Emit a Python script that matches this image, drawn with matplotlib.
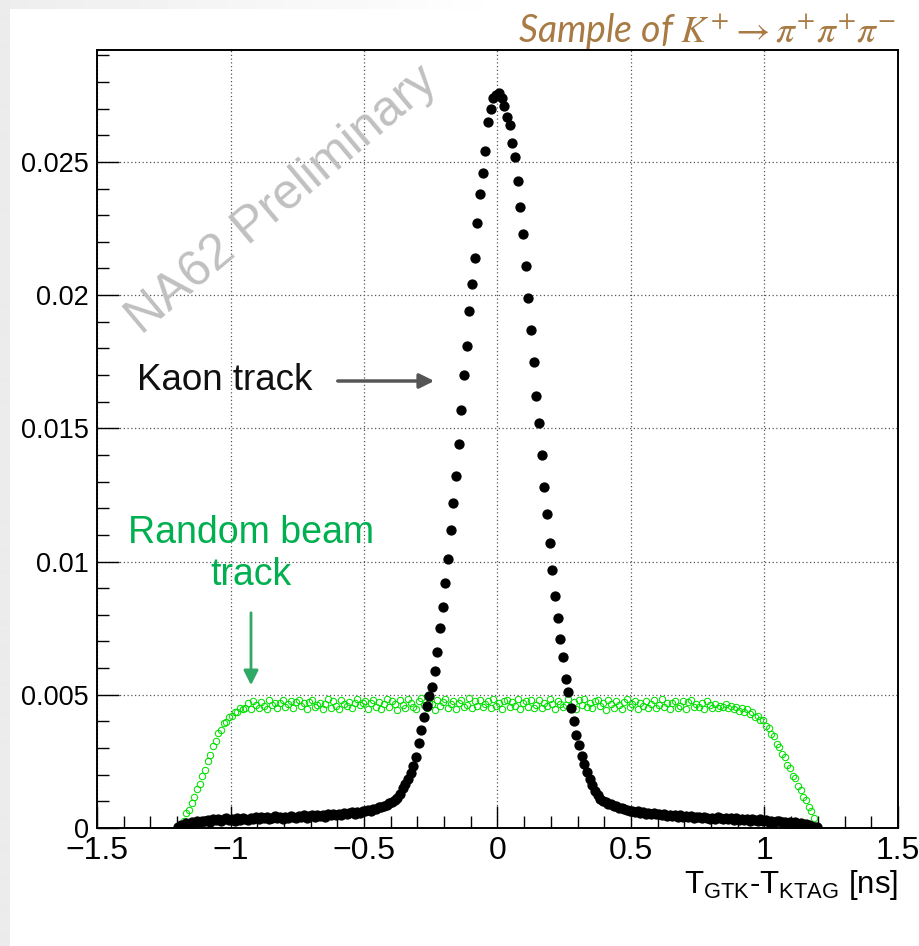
import numpy as np
import matplotlib
matplotlib.use("Agg")
import matplotlib.pyplot as plt
from matplotlib import font_manager
from matplotlib.ticker import MultipleLocator, FixedLocator, FixedFormatter

# histogram binning (ns): 240 bins of 0.01 between -1.2 and 1.2
t_lo, t_hi, n_bins = -1.2, 1.2, 240

# bin contents, in units of 1e-5
kaon_e5 = [
    3, 10, 8, 17, 14, 22, 18, 26, 21, 28,
    25, 31, 24, 33, 29, 35, 27, 32, 36, 30,
    34, 28, 37, 31, 39, 33, 30, 38, 35, 40,
    33, 41, 36, 42, 34, 39, 44, 37, 41, 35,
    43, 38, 45, 40, 37, 46, 42, 48, 39, 44,
    47, 42, 50, 45, 49, 43, 52, 47, 54, 50,
    53, 49, 57, 52, 56, 60, 54, 61, 58, 63,
    62, 67, 65, 71, 73, 77, 80, 84, 88, 92,
    97, 104, 114, 128, 150, 165, 183, 205, 232, 268,
    318, 368, 418, 458, 496, 530, 590, 660, 750, 830,
    920, 1010, 1120, 1220, 1320, 1440, 1570, 1700, 1810, 1940,
    2040, 2140, 2270, 2380, 2460, 2540, 2650, 2700, 2740, 2750,
    2760, 2740, 2710, 2670, 2640, 2570, 2520, 2430, 2330, 2230,
    2110, 1990, 1870, 1750, 1620, 1520, 1400, 1280, 1180, 1070,
    970, 870, 790, 710, 640, 560, 510, 450, 400, 350,
    310, 270, 240, 210, 185, 160, 138, 122, 110, 102,
    98, 91, 89, 83, 81, 75, 75, 70, 69, 64,
    65, 60, 62, 56, 59, 54, 57, 52, 56, 51,
    53, 48, 51, 46, 50, 44, 48, 43, 47, 42,
    45, 40, 44, 38, 43, 41, 36, 42, 37, 35,
    39, 34, 40, 36, 33, 38, 32, 37, 31, 36,
    30, 35, 29, 34, 28, 33, 31, 26, 32, 27,
    29, 24, 28, 22, 27, 25, 21, 24, 20, 22,
    18, 21, 16, 17, 13, 14, 10, 9, 5, 2,
]

random_e5 = [
    2, 12, 28, 55, 68, 95, 115, 146, 165, 196,
    219, 252, 275, 308, 327, 356, 369, 393, 399, 417,
    420, 436, 437, 450, 448,
    452, 471, 447, 478, 463, 452, 474, 459, 445, 480,
    461, 469, 451, 470, 482, 456, 466, 475, 449, 472,
    479, 458, 469, 448, 473, 481, 455, 463, 470, 446,
    467, 484, 452, 476, 458, 446, 479, 465, 457, 474,
    450, 468, 486, 460, 468, 477, 448, 471, 482, 455,
    474, 446, 466, 485, 453, 477, 464, 442, 481, 460,
    451, 483, 469, 456, 447, 475, 487, 462, 450, 471,
    466, 444, 479, 457, 474, 484, 450, 464, 478, 448,
    470, 482, 454, 462, 488, 449, 476, 459, 480, 453,
    465, 477, 449, 483, 458, 470, 445, 478, 481, 454,
    473, 458, 485, 447, 468, 478, 455, 482, 451, 463,
    479, 450, 469, 457, 486, 466, 446, 476, 466, 453,
    460, 483, 455, 473, 447, 479, 463, 485, 456, 468,
    449, 475, 481, 458, 470, 444, 482, 464, 452, 476,
    462, 448, 472, 484, 454, 467, 478, 446, 471, 457,
    477, 452, 466, 480, 449, 461, 483, 456, 470, 445,
    468, 478, 451, 459, 475, 447, 472, 481, 455, 465,
    456, 469, 448, 477, 460, 452, 466, 449, 458, 453,
    464, 450,
    458, 447, 455, 441, 450, 434, 445, 427, 434, 417,
    422, 404, 405,
    381, 377, 351, 344, 315, 305, 277, 266, 238, 226,
    196, 186, 157, 143, 117, 104, 77, 63, 37, 8,
]

x_ticks = [-1.5, -1, -0.5, 0, 0.5, 1, 1.5]
x_tick_labels = ["\u22121.5", "\u22121", "\u22120.5", "0", "0.5", "1", "1.5"]
y_ticks = [0, 0.005, 0.01, 0.015, 0.02, 0.025]
y_tick_labels = ["0", "0.005", "0.01", "0.015", "0.02", "0.025"]

W, H = 920, 946


def px(x, y):
    # pixel position in the picture -> figure fraction
    return x / W, 1 - y / H


names = {f.name for f in font_manager.fontManager.ttflist}
narrow = "Liberation Sans Narrow" if "Liberation Sans Narrow" in names else "Liberation Sans"
plt.rcParams["mathtext.fontset"] = "custom"
plt.rcParams["mathtext.rm"] = narrow
plt.rcParams["mathtext.it"] = narrow + ":italic"

fig = plt.figure(figsize=(W / 100, H / 100), dpi=100, facecolor="white")

# slide background: grey strip on the left and fading grey band on top
bg = fig.add_axes([0, 0, 1, 1], zorder=-5)
bg.set_axis_off()
shade = np.ones((H, W))
shade[:, :10] = 0.925
top = np.clip(0.93 + 0.07 * np.linspace(0, 1, W) * 1.8, 0, 1)
shade[:10, 10:] = top[10:]
bg.imshow(shade, cmap="gray", vmin=0, vmax=1, aspect="auto", interpolation="bilinear")

ax = fig.add_axes([97 / W, 1 - 828 / H, (898 - 97) / W, (828 - 50) / H])

edges = np.linspace(t_lo, t_hi, n_bins + 1)
centers = 0.5 * (edges[:-1] + edges[1:])
kaon = np.array(kaon_e5) * 1e-5
random_beam = np.array(random_e5) * 1e-5

ax.plot(centers, random_beam, ls="none", marker="o", ms=4.6, mfc="none",
        mec="#00e000", mew=0.75, zorder=3)
ax.plot(centers, kaon, ls="none", marker="o", ms=6.4, mfc="black",
        mec="black", zorder=4)

ax.set_xlim(-1.5, 1.5)
ax.set_ylim(0, 0.0292)
ax.xaxis.set_major_locator(FixedLocator(x_ticks))
ax.xaxis.set_major_formatter(FixedFormatter(x_tick_labels))
ax.xaxis.set_minor_locator(MultipleLocator(0.1))
ax.yaxis.set_major_locator(FixedLocator(y_ticks))
ax.yaxis.set_major_formatter(FixedFormatter(y_tick_labels))
ax.yaxis.set_minor_locator(MultipleLocator(0.001))

ax.tick_params(which="both", direction="in", top=False, right=False, width=1.0, color="black")
ax.tick_params(which="major", length=16)
ax.tick_params(which="minor", length=8.5)
ax.tick_params(axis="y", which="major", labelsize=19.5, pad=6)
ax.tick_params(axis="x", which="major", labelsize=23, pad=6)
for lab in ax.get_yticklabels():
    lab.set_family("Liberation Sans")
for lab in ax.get_xticklabels():
    lab.set_family(narrow)
for s in ax.spines.values():
    s.set_linewidth(1.4)

ax.grid(True, which="major", color="#555555", lw=0.9, ls=(0, (1, 2)))
ax.set_axisbelow(True)

# axis title, ROOT style at the lower right
fig.text(*px(898, 893), r"T$_{\mathrm{GTK}}$-T$_{\mathrm{KTAG}}$ [ns]", ha="right",
         va="baseline", fontsize=22.5, family=narrow, math_fontfamily="custom")

# top right caption
fig.text(*px(896, 42), r"Sample of $K^{+} \rightarrow \pi^{+}\pi^{+}\pi^{-}$", ha="right",
         va="baseline", fontsize=27, family="Lato", style="italic",
         color="#a87a44", math_fontfamily="stix")

# watermark
fig.text(*px(282, 200), "NA62 Preliminary", rotation=40, ha="center", va="center",
         fontsize=36, family="Liberation Sans", color="#c0c0c0")

# annotations
fig.text(*px(137, 381), "Kaon track", ha="left", va="center", fontsize=26.5,
         family="Liberation Sans", color="#111111")
ax.annotate("", xy=px(437, 381), xytext=px(335, 381), xycoords="figure fraction",
            textcoords="figure fraction",
            arrowprops=dict(arrowstyle="-|>", color="#555555", lw=2.5, mutation_scale=22))

fig.text(*px(251, 554), "Random beam\ntrack", ha="center", va="center", fontsize=27,
         family="Liberation Sans", color="#00b050", linespacing=1.2, multialignment="center")
ax.annotate("", xy=px(251, 688), xytext=px(251, 610), xycoords="figure fraction",
            textcoords="figure fraction",
            arrowprops=dict(arrowstyle="-|>", color="#30a866", lw=2, mutation_scale=22))

fig.savefig("out.png", dpi=100, facecolor="white")
